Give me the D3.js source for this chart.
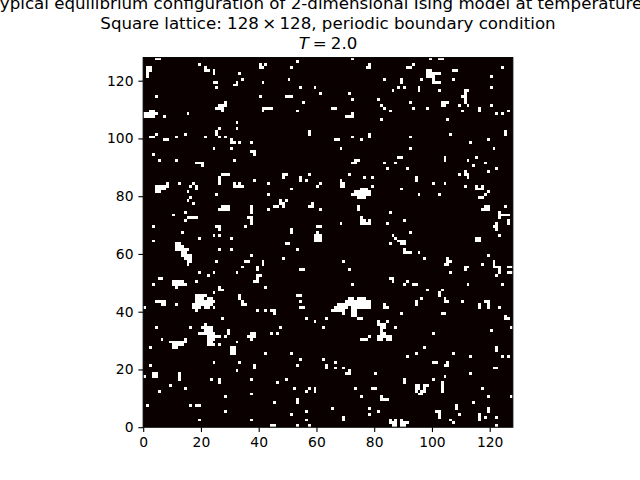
<!DOCTYPE html>
<html><head><meta charset="utf-8">
<script src="https://cdn.jsdelivr.net/npm/d3@7"></script>
<style>html,body{margin:0;padding:0;background:#fff;}svg{display:block;}text{font-family:"DejaVu Sans";fill:#000;}</style>
</head><body><svg id="c" width="640" height="480"></svg>
<script>
const titleLine1 = "Typical equilibrium configuration of 2-dimensional Ising model at temperature T";
const titleLine2Parts = ["Square lattice: 128", "×", "128, periodic boundary condition"];
const tempLabel = "2.0";
const tickValues = [0,20,40,60,80,100,120];
const latticeSize = 128;
// Each entry: [row counted from the top, col, col, ...] of the flipped (white) spins
const regionNW = [[0,4,5],[3,1,2],[4,1,2],[5,1],[6,1],[2,19],[3,21],[4,21,22],[4,24],[5,24],[2,40,42],[3,40,41],[5,33],[7,34],[8,24,25],[8,32],[9,31,32],[10,25],[8,41],[13,4],[13,40],[15,28],[16,26,27,28],[17,25,26,27],[18,27],[17,41,42,43,44],[18,41],[18,2,3],[19,0,1,2,3,4],[20,0,1,2,3],[20,7],[19,15],[22,32],[24,32],[24,26],[25,25],[26,25],[27,26],[27,28],[27,21],[26,14],[27,11],[26,4],[27,2,3],[28,7,8],[28,30],[29,30,31],[29,33],[29,37],[31,24],[31,30],[32,37,38],[33,38],[33,3],[35,5],[35,11],[35,31],[36,18,19,20],[37,20],[40,27,28,29],[41,26],[42,26],[42,38],[43,8],[43,12],[43,17],[43,26],[43,31],[43,33]];
const regionN = [[1,53],[0,72],[3,51],[2,78],[3,77,78],[7,50],[7,83],[10,54],[10,59],[11,86],[12,61],[12,71],[13,49,50,51],[14,72],[14,81],[15,55],[16,82],[17,83],[17,65,66],[18,53],[18,85],[19,72],[20,70,71,72],[21,82],[25,57],[26,57],[26,78],[27,78],[27,72],[28,66,67],[28,75],[31,68],[35,73,74],[36,72,73],[36,83],[38,84],[40,48,49],[41,48],[40,57],[40,71],[41,54],[42,54],[42,56],[41,76],[41,79],[42,68],[43,68,69],[43,43],[43,61]];
const regionNE = [[0,99,102,103],[2,93],[3,91,92],[3,124],[4,107,108],[4,98,99],[5,98,99,100,101,102],[6,98,99,100],[7,100],[8,100,101,102],[6,120],[7,89],[8,89],[7,96],[7,107],[10,88],[10,90],[11,86],[10,95],[11,95],[11,102],[10,120],[11,111,112],[12,111],[13,110,111],[14,111],[15,111],[15,92],[15,103,104,105],[16,103,104],[16,109],[16,112],[16,120],[17,93],[17,98],[17,116],[18,116],[18,110],[18,85],[18,126],[19,122],[19,124],[21,105],[25,125],[26,125],[26,106],[27,92],[28,119],[29,113],[31,92],[31,121],[34,88,89],[34,104],[35,104],[34,115],[35,112],[36,87],[36,118],[37,114],[38,91],[38,122],[39,119],[39,111],[40,111,112],[41,112],[40,109],[41,94],[42,94],[43,100],[43,104]];
const regionW = [[44,4,5,6,7,8],[45,4,5,6,7],[46,4,5],[44,16],[44,18],[45,18],[44,31,32,33,34],[46,15],[47,25],[47,43],[48,16],[49,15],[50,17],[51,27,28,29],[52,26,27,28,29],[51,37],[52,37],[53,37],[52,43],[53,14],[54,10],[55,15,16,17,18],[56,14],[55,36,37],[56,37],[57,37],[58,3],[58,25,26],[59,26],[58,35],[60,13],[61,24],[61,26],[62,19],[62,30],[63,3],[64,11,12],[65,11,12,13],[66,11,12,13,14,15],[67,13,14],[68,13,14,15,16],[69,14,15,16],[70,15,16],[71,15],[66,26],[66,30],[70,25],[68,37],[70,35,36],[70,41],[71,41],[72,34],[72,39],[73,39],[74,19],[74,24],[75,22],[74,32],[75,39,40],[76,39],[77,38,39],[76,5,6],[78,3],[77,10,11,12,13],[78,10,11,12,13,14],[79,11],[77,18],[79,42],[79,26],[80,26,27],[81,24],[82,18,19,20,21],[83,18,19,20,22,23],[84,18,19,20,21,22,23,24],[85,17,18,19,20,21,22,23],[86,17,18,19,21,22,24],[87,18],[84,4,5,6,7],[85,6,7],[85,11],[86,0],[82,33],[83,33],[84,34],[85,34,35],[87,39],[87,42]];
const regionC = [[44,60],[44,68,69],[44,79],[45,51],[47,43],[45,75,76,77],[46,73,74,75,76,77,78],[47,72,73,74,75,76,77,78],[48,74,75,76],[49,47,49],[50,47,48],[51,45,46,48],[50,58],[51,57,58],[52,61],[51,74],[52,74],[53,85],[55,75],[56,75,76],[57,75,76],[56,78],[57,77,78],[57,68],[57,84],[58,60,61],[59,51],[60,51],[60,60],[61,59,60,61],[62,59,60,61],[63,59,60,61],[61,86],[64,85],[64,49,50],[66,53],[69,48],[70,69],[73,54,55],[73,71],[76,85,86],[77,86],[78,72],[79,42],[82,53,54],[84,54],[86,54,55],[83,71,72,74,75,76],[84,70,71,72,73,74,75,76,77,78],[85,67,68,69,70,71,72,73,74,75,76,77,78],[86,66,67,68,69,70,72,73,74,75,76,77,78],[87,65,66,67,68,69,72,73],[88,69,72,73],[89,72,73],[90,74,75]];
const regionE = [[44,111],[44,115,117],[45,115,116,117],[45,89],[46,119],[47,118],[48,116,117],[47,95],[47,102],[51,118,119],[52,117,118,119],[51,125],[53,85],[53,123],[54,123,124,125,126],[55,123],[56,90],[56,126],[57,126],[57,122],[58,121,122],[59,122],[60,92],[61,123],[61,86],[62,87],[63,88,89,90],[64,89,90],[64,85],[62,115,116],[63,115,116],[66,90],[67,90,91,92],[67,95],[68,119],[69,97],[69,105],[70,105,106],[71,104,105],[70,121],[71,121],[72,121,122,123],[73,123],[74,123],[75,122],[71,117],[72,126,127],[74,126,127],[72,111,112],[73,111],[74,106],[77,91],[78,90],[78,93,94],[78,112],[78,124],[80,98],[80,103],[81,102],[82,102],[83,96],[84,94],[85,94],[83,104],[84,104,105],[84,110],[85,116],[86,116],[84,118,119],[85,119],[86,119],[86,123]];
const regionSW = [[90,27],[93,4],[93,16],[92,21],[93,20,21,22,23],[94,21,22,23],[95,19,20,21,22,23,24],[96,22,23,24,25,26],[97,22,23,24],[98,22,23],[99,22,23,24,26],[94,29],[95,29],[96,28],[95,37,38],[96,36,37,38],[97,37],[97,6],[97,14],[98,9,10,11,12,13,14],[99,10,11,12,13],[100,10,11],[98,32],[100,2],[100,30,31],[101,30,31],[102,30,31],[102,42],[105,24],[105,33],[106,2],[106,38],[107,38],[108,32],[109,3,4],[110,3,4],[110,0],[109,12],[110,12],[111,12],[111,23],[111,26],[112,26],[111,37],[113,9],[114,14],[115,5],[116,37],[117,28],[120,1],[120,16],[120,18,19],[122,28],[125,19],[125,37]];
const regionS = [[87,44,45],[88,45],[90,56],[90,63],[85,83],[86,83,84],[91,59],[91,81,84],[92,81,82,83],[93,82,83],[94,82],[95,82,83],[96,81,82,83,84],[97,81,82,84,85],[97,75,76,77],[96,78],[93,47],[93,62],[95,44],[95,46],[102,42],[102,51],[104,54],[104,62],[105,66],[106,53],[106,63],[107,63],[107,66],[107,69],[108,71],[109,70,71],[109,80],[111,49],[112,46],[114,52],[114,57],[115,56],[114,59],[115,59],[114,73],[114,79,80],[117,75],[117,82],[118,82,83,84],[118,53],[119,53],[119,45],[122,56],[123,51],[121,65],[121,78],[123,78],[122,81],[124,69],[125,69],[125,56],[127,44,45],[127,53],[127,57]];
const regionSE = [[88,89],[88,103,104],[89,125],[90,125,126],[91,84],[93,87],[93,127],[94,120],[95,100],[96,85],[97,84,85],[100,97],[100,122],[101,122],[102,107],[102,94],[103,91],[103,113],[103,124],[103,126],[105,100,101],[105,105],[106,104,105],[107,121,122],[109,113],[110,104],[111,100],[111,90],[112,90],[112,103],[113,103],[114,103],[115,103],[113,94,95,97,98],[114,94,95,97],[115,94,96,97],[116,95,96],[114,117],[117,119],[117,127],[118,84],[119,114],[120,108],[121,108],[121,119],[122,119],[122,101,102],[123,102],[124,102],[123,109],[123,116],[124,116],[125,116],[124,118],[124,122],[125,106],[126,107],[125,85,87,89],[126,85,86,87,89,90,91],[127,86,87,89,90],[127,122]];

const allRegions = [regionNW,regionN,regionNE,regionW,regionC,regionE,regionSW,regionS,regionSE];
const svg = d3.select("#c");
const plotLeft=143.2,plotRight=512.8,plotTop=57.6,plotBottom=427.2;
const x = d3.scaleLinear().domain([0,latticeSize]).range([plotLeft,plotRight]);
const y = d3.scaleLinear().domain([0,latticeSize]).range([plotBottom,plotTop]);
const colorScale = d3.scaleOrdinal().domain([0,1]).range(["#0b0000","#ffffff"]);

svg.append("rect").attr("x",x(0)).attr("y",y(latticeSize)).attr("width",x(latticeSize)-x(0)).attr("height",y(0)-y(latticeSize)).attr("fill",colorScale(0));
const cells = allRegions.flat().flatMap(e => e.slice(1).map(c => ({row:latticeSize-1-e[0], col:c})));
svg.append("g").attr("shape-rendering","crispEdges").selectAll("rect").data(cells).join("rect")
  .attr("x",d=>x(d.col)).attr("y",d=>y(d.row+1))
  .attr("width",d=>x(d.col+1)-x(d.col)).attr("height",d=>y(d.row)-y(d.row+1))
  .attr("fill",colorScale(1));

const ax = d3.axisBottom(x).tickValues(tickValues).tickFormat(d3.format("d")).tickSize(4.86).tickPadding(4.86);
const ay = d3.axisLeft(y).tickValues(tickValues).tickFormat(d3.format("d")).tickSize(4.86).tickPadding(4.86);
for (const [a,t] of [[ax,`translate(0,${plotBottom})`],[ay,`translate(${plotLeft},0)`]]) {
  const g = svg.append("g").attr("transform",t).call(a);
  g.select(".domain").remove();
  g.selectAll("line").attr("stroke","#000").attr("stroke-width",1.11);
  g.selectAll("text").attr("font-size",13.89).attr("font-family","DejaVu Sans").attr("fill","#000");
}
svg.append("rect").attr("x",plotLeft).attr("y",plotTop).attr("width",plotRight-plotLeft).attr("height",plotBottom-plotTop).attr("fill","none").attr("stroke","#000").attr("stroke-width",1.11);

const cx=(plotLeft+plotRight)/2;
const tg = svg.append("g").attr("font-size",16.67).attr("text-anchor","middle");
tg.append("text").attr("x",cx-3).attr("y",9).text(titleLine1);
const t2 = tg.append("text").attr("x",cx).attr("y",29);
t2.append("tspan").text(titleLine2Parts[0]);
t2.append("tspan").attr("dx",3.3).text(titleLine2Parts[1]);
t2.append("tspan").attr("dx",3.3).text(titleLine2Parts[2]);
const t3 = tg.append("text").attr("x",cx).attr("y",49);
t3.append("tspan").attr("font-style","italic").text("T");
t3.append("tspan").attr("dx",4).text("=");
t3.append("tspan").attr("dx",4).text(tempLabel);
</script></body></html>
